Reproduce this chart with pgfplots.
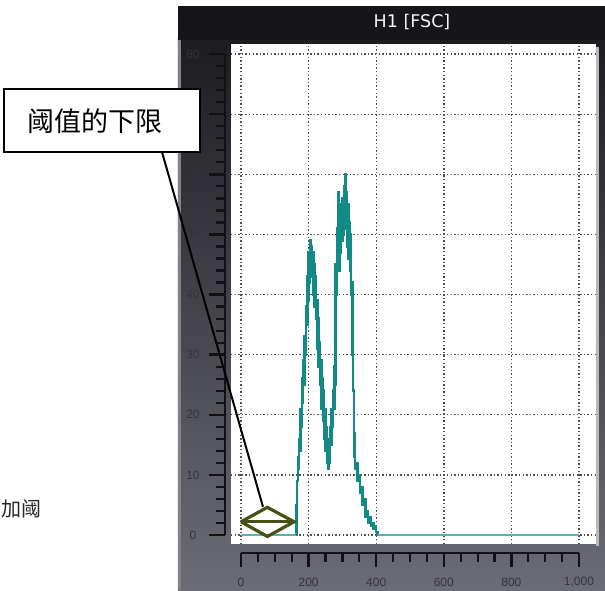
\documentclass[border=0pt]{standalone}
\usepackage{pgfplots}
\pgfplotsset{compat=1.18}
\usepackage{pgfplotstable}
\usepackage{fontspec}
\setmainfont{Liberation Sans}
\newfontfamily\cjk{Noto Sans CJK SC}
\newfontfamily\titlefont{DejaVu Sans}

\definecolor{panelTop}{RGB}{28,28,33}
\definecolor{panelBot}{RGB}{108,108,116}
\definecolor{barDark}{RGB}{22,22,26}
\definecolor{bevel}{RGB}{130,130,136}
\definecolor{histTeal}{RGB}{18,138,134}
\definecolor{baseTeal}{RGB}{88,180,178}
\definecolor{gateOlive}{RGB}{70,82,20}
\definecolor{rulerInk}{RGB}{18,18,20}
\definecolor{labelInk}{RGB}{52,52,58}
\definecolor{gridInk}{RGB}{80,80,80}

% FSC histogram counts (channel, count)
\pgfplotstableread{
x y
0 0
164 5
166 9
168 13
170 11
172 16
174 14
176 21
178 18
180 26
182 22
184 29
186 25
188 33
190 30
192 38
194 35
196 43
198 39
200 47
202 42
204 49
206 44
208 48
210 43
212 47
214 40
216 45
218 38
220 43
222 36
224 39
226 31
228 36
230 28
232 32
234 25
236 29
238 21
240 26
242 19
244 24
246 16
248 21
250 14
252 18
254 12
256 16
258 11
260 15
262 12
264 18
266 15
268 21
270 18
272 24
274 21
276 28
278 25
280 45
282 40
284 51
286 46
288 57
290 44
292 53
294 47
296 55
298 49
300 56
302 50
304 58
306 52
308 60
310 51
312 57
314 48
316 55
318 46
320 52
322 44
324 50
326 40
328 42
330 30
332 24
334 17
336 13
338 11
340 12
344 9
348 10
352 7
356 8
360 5
364 6
368 3
372 4
376 2
380 3
384 1.5
388 2
392 1
396 1.5
400 0.5
404 0
1000 0
}\histdata

\begin{document}
\begin{tikzpicture}[x=1pt,y=1pt]
\useasboundingbox (-231,-46) rectangle (374,544);
\fill[white] (-231,-46) rectangle (374,544);

% instrument panel
\shade[top color=panelTop, bottom color=panelBot] (-53,-46) rectangle (374,506);
\fill[barDark] (-53,504) rectangle (374,538);
\fill[bevel] (-53,-46) rectangle (-50,504);
\node[text=white!92!gray, font=\titlefont\fontsize{17.5}{20}\selectfont] at (181,522) {H1 [FSC]};
\fill[gray!55] (365,-2) rectangle (368,497);

\begin{axis}[
  at={(0,0)}, anchor=south west,
  scale only axis, width=365pt, height=500pt,
  xmin=-29.6, xmax=1050.3, ymin=-1.5, ymax=81.69,
  axis line style={draw=none},
  axis background/.style={fill=white},
  xtick={0,200,...,1000}, ytick={0,10,...,80},
  xticklabels={}, yticklabels={},
  major tick length=0pt,
  grid=major,
  grid style={dash pattern=on 1.4pt off 2.2pt, gridInk, line width=1.4pt},
  clip=false,
]
  \addplot[histTeal, line width=2.5pt, const plot] table[x=x, y=y] {\histdata};
  \addplot[baseTeal, line width=2.4pt] coordinates {(0,0) (163,0)};
  \addplot[baseTeal, line width=2.4pt] coordinates {(404,0) (1000,0)};

  % gate marker
  \addplot[gateOlive, line width=3.2pt, line join=miter] coordinates {(0,2.2) (78,4.6) (157,2.2) (78,-0.25) (0,2.2)};
  \addplot[gateOlive, line width=3.2pt] coordinates {(0,2.2) (157,2.2)};
  \coordinate (gateTop) at (axis cs:65,4.7);

  % y ruler
  \draw[rulerInk, line width=2.4pt] ([xshift=-6pt]axis cs:-29.6,0) -- ([xshift=-6pt]axis cs:-29.6,80);
  \pgfplotsinvokeforeach{0,2,...,80}{
    \draw[rulerInk, line width=2.2pt] ([xshift=-6pt]axis cs:-29.6,#1) -- ([xshift=-15pt]axis cs:-29.6,#1);
  }
  \pgfplotsinvokeforeach{0,10,...,80}{
    \draw[rulerInk, line width=2.4pt] ([xshift=-6pt]axis cs:-29.6,#1) -- ([xshift=-22pt]axis cs:-29.6,#1);
    \node[text=labelInk, font=\fontsize{12}{14}\selectfont] at ([xshift=-38pt]axis cs:-29.6,#1) {#1};
  }

  % x ruler
  \draw[rulerInk, line width=2.4pt] ([yshift=-9pt]axis cs:0,-1.5) -- ([yshift=-9pt]axis cs:1000,-1.5);
  \pgfplotsinvokeforeach{0,50,...,1000}{
    \draw[rulerInk, line width=2.2pt] ([yshift=-9pt]axis cs:#1,-1.5) -- ([yshift=-18pt]axis cs:#1,-1.5);
  }
  \pgfplotsinvokeforeach{0,200,...,1000}{
    \draw[rulerInk, line width=2.4pt] ([yshift=-9pt]axis cs:#1,-1.5) -- ([yshift=-23pt]axis cs:#1,-1.5);
  }
  \node[text=labelInk, font=\fontsize{12}{14}\selectfont] at ([yshift=-38pt]axis cs:0,-1.5) {0};
  \node[text=labelInk, font=\fontsize{12}{14}\selectfont] at ([yshift=-38pt]axis cs:200,-1.5) {200};
  \node[text=labelInk, font=\fontsize{12}{14}\selectfont] at ([yshift=-38pt]axis cs:400,-1.5) {400};
  \node[text=labelInk, font=\fontsize{12}{14}\selectfont] at ([yshift=-38pt]axis cs:600,-1.5) {600};
  \node[text=labelInk, font=\fontsize{12}{14}\selectfont] at ([yshift=-38pt]axis cs:800,-1.5) {800};
  \node[text=labelInk, font=\fontsize{12}{14}\selectfont] at ([yshift=-38pt]axis cs:1000,-1.5) {1,000};
\end{axis}

% callout
\draw[black, line width=2pt] (-69,392) -- (gateTop);
\draw[black, line width=1.8pt, fill=white] (-227,392) rectangle (-31,455);
\node[font=\cjk\fontsize{27}{30}\selectfont] at (-136,423) {阈值的下限};
\node[text=black!85, font=\cjk\fontsize{20}{24}\selectfont] at (-209,35) {加阈};
\end{tikzpicture}
\end{document}
